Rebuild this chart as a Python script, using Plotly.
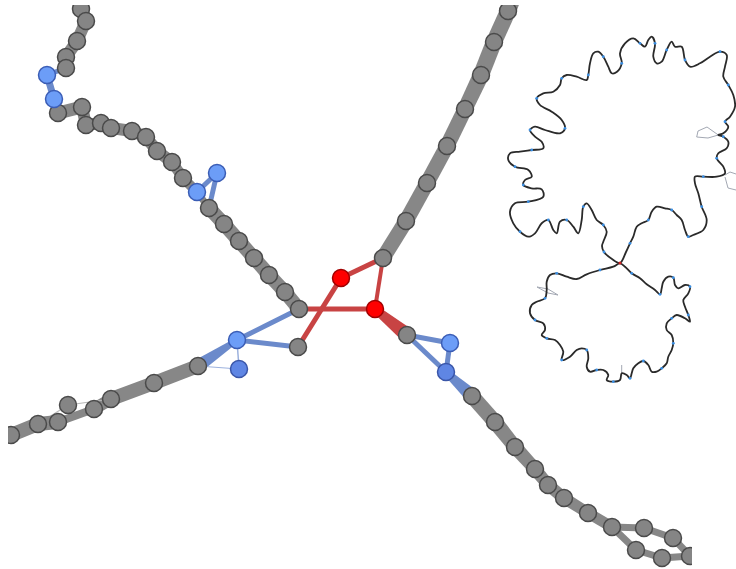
import math
import plotly.graph_objects as go

# ---------------- main graph: node layout (canvas pixel units) ----------------
NODE_X = [81, 86, 77, 66, 66, 47, 54, 58, 82, 86, 101, 111, 132, 146, 157, 172, 183, 197, 217, 209,
          224, 239, 254, 269, 285, 299, 341, 375, 298, 237, 239, 198, 154, 111, 94, 68, 58, 38, 11,
          508, 494, 481, 465, 447, 427, 406, 383, 407, 450, 446, 472, 495, 515, 535, 548, 564, 588,
          612, 644, 673, 636, 662, 690, 72, -8, 520]
NODE_Y = [9, 21, 41, 57, 68, 75, 99, 113, 107, 125, 123, 128, 131, 137, 151, 162, 178, 192, 173, 208,
          224, 241, 258, 275, 292, 309, 278, 309, 347, 340, 369, 366, 383, 399, 409, 405, 422, 424, 435,
          11, 42, 75, 109, 146, 183, 221, 258, 335, 343, 372, 396, 422, 447, 469, 485, 498, 513,
          527, 528, 538, 550, 558, 556, -10, 442, -20]
NODE_GROUP = ["g", "g", "g", "g", "g", "b", "b", "g", "g", "g", "g", "g", "g", "g", "g", "g", "g", "b", "b", "g",
              "g", "g", "g", "g", "g", "g", "r", "r", "g", "b", "b2", "g", "g", "g", "g", "g", "g", "g", "g",
              "g", "g", "g", "g", "g", "g", "g", "g", "g", "b", "b2", "g", "g", "g", "g", "g", "g", "g",
              "g", "g", "g", "g", "g", "g", "g", "g", "g"]

# ---------------- main graph: edges ----------------
EDGE_SRC = [63, 0, 1, 2, 3, 4, 5, 6, 7, 8, 9, 10, 11, 12, 13, 14, 15, 16, 17, 18, 17,
            19, 20, 21, 22, 23, 24,
            25, 25, 26, 26, 27, 27, 29, 29, 29, 31,
            65, 39, 40, 41, 42, 43, 44, 45,
            47, 47, 48, 49, 50, 51, 52, 53, 54, 55, 56, 57, 58, 59, 57, 60, 61,
            31, 32, 33, 34, 33, 35, 36, 37, 38]
EDGE_DST = [0, 1, 2, 3, 4, 5, 6, 7, 8, 9, 10, 11, 12, 13, 14, 15, 16, 17, 18, 19, 19,
            20, 21, 22, 23, 24, 25,
            29, 27, 28, 46, 46, 47, 28, 31, 30, 30,
            39, 40, 41, 42, 43, 44, 45, 46,
            48, 49, 49, 50, 51, 52, 53, 54, 55, 56, 57, 58, 59, 62, 60, 61, 62,
            32, 33, 34, 36, 35, 37, 37, 38, 64]
EDGE_W_SRC = [12, 12, 12, 12, 12, 5, 7, 7, 13, 12, 12, 12, 12, 12, 12, 12, 11, 10, 5, 5, 7,
              14, 14, 14, 14, 14, 14,
              5, 5, 5, 5, 4, 8, 5, 5, 1.5, 1,
              16, 16, 16, 16, 15, 15, 15, 15,
              5, 5, 5, 7, 15, 15, 14, 13, 12, 12, 11, 7, 7, 7, 7, 7, 7,
              14, 14, 12, 8, 1, 1, 14, 14, 14]
EDGE_W_DST = [12, 12, 12, 12, 12, 5, 7, 7, 13, 12, 12, 12, 12, 12, 12, 12, 11, 10, 5, 5, 7,
              14, 14, 14, 14, 14, 14,
              5, 5, 5, 5, 4, 15, 5, 13, 1.5, 1,
              16, 16, 16, 15, 15, 15, 15, 15,
              5, 5, 5, 14, 15, 14, 13, 12, 12, 11, 11, 7, 7, 7, 7, 7, 7,
              14, 14, 12, 8, 1, 1, 14, 14, 14]
EDGE_GROUP = ["g", "g", "g", "g", "g", "b", "b", "b", "g", "g", "g", "g", "g", "g", "g", "g", "g", "g", "b", "b", "g",
              "g", "g", "g", "g", "g", "g",
              "b", "r", "r", "r", "r", "r", "b", "b", "bt", "bt",
              "g", "g", "g", "g", "g", "g", "g", "g",
              "b", "b", "b", "b", "g", "g", "g", "g", "g", "g", "g", "g", "g", "g", "g", "g", "g",
              "g", "g", "g", "g", "gt", "gt", "g", "g", "g"]

# ---------------- overview inset: traced outline of the whole graph ----------------
UPPER_X = [620, 612, 604, 602, 603.3, 606.7, 603.3, 596.7, 591.7, 586.7, 583.3, 581.7, 578.3, 573.3,
           566.7, 560, 556.7, 553.3, 548.3, 541.7, 535, 528.3, 520, 513.3, 510, 515, 528.3, 543.3,
           541.7, 531.7, 523.3, 525, 531.7, 528.3, 515, 508.3, 510, 520, 531.7, 543.3, 541.7, 535,
           530, 535, 545, 560, 565, 561.7, 551.7, 540, 536.7, 543.3, 553.3, 560, 561.7, 566.7,
           576.7, 586.7, 588.3, 590, 593.3, 598.3, 603.3, 608.3, 611.7, 616.7, 621.7, 620, 625,
           633.3, 640, 645, 648.3, 651.7, 655, 653.3, 656.7, 661.7, 666.7, 671.7, 675, 681.7, 685,
           690, 700, 710, 720, 726.7, 725, 723.3, 728.3, 733.3, 735, 730, 725, 728.3, 723.3, 718.3,
           723.3, 728.3, 726.7, 718.3, 716.7, 723.3, 725, 716.7, 703.3, 695, 695, 698.3, 701.7,
           706.7, 703.3, 693.3, 688.3, 685, 681.7, 676.7, 671.7, 665, 656.7, 651.7, 648.3, 641.7,
           636.7, 633.3, 630, 626, 620]
UPPER_Y = [263, 259, 252, 246, 241.7, 231.7, 225, 220, 210, 203.3, 206.7, 220, 233.3, 226.7,
           220, 221.7, 233.3, 230, 220, 223.3, 233.3, 236.7, 231.7, 223.3, 211.7, 203.3, 201.7, 196.7,
           189.3, 188.3, 185, 180, 176.7, 170, 166.7, 160, 153.3, 151.7, 150, 148.3, 141.7, 136.7,
           130, 126.7, 130, 133.3, 128.3, 120, 111.7, 105, 98.3, 93.3, 91.7, 85, 78.3, 75,
           76.7, 80, 75, 63.3, 53.3, 51.7, 56.7, 66.7, 73.3, 72, 63.3, 53.3, 43.3,
           38.3, 43.3, 46.7, 40, 36.7, 43.3, 56.7, 63.3, 61.7, 50, 41.7, 46.7, 46.7, 60,
           66.7, 63.3, 56.7, 51.7, 55, 66.7, 76.7, 85, 95, 106.7, 116.7, 121.7, 126.7, 133.3, 135,
           136.7, 141.7, 148.3, 153.3, 158.3, 166.7, 173.3, 176.7, 176.7, 176.7, 183.3, 193.3, 206.7,
           220, 230, 235, 236.7, 230, 220, 215, 210, 208.3, 206.7, 211.7, 220, 223.3,
           226.7, 236.7, 243.3, 252, 263]
LOWER_X = [620, 613.3, 600, 586.7, 576.7, 566.7, 556.7, 550, 546.7, 546.7, 545, 536.7, 531.7, 530,
           535, 543.3, 545, 541.7, 546.7, 555, 560, 563.3, 561.7, 570, 576.7, 581.7, 586.7, 588.3,
           586.7, 590, 596.7, 603.3, 608.3, 606.7, 613.3, 620, 621.7, 626.7, 630, 631.7, 633.3,
           638.3, 643.3, 648.3, 651.7, 656.7, 661.7, 666.7, 668.3, 671.7, 673.3, 671.7, 666.7,
           666.7, 671.7, 676.7, 685, 690, 688.3, 685, 683.3, 688.3, 690, 685, 678.3, 675, 673.3,
           668.3, 663.3, 661.7, 660, 655, 646.7, 640, 631.7, 625, 620]
LOWER_Y = [263.3, 266.7, 270, 274.3, 279, 276.7, 273.3, 275, 281.7, 290, 298.3, 301.7, 305, 313.3,
           320, 323.3, 330, 335, 338.3, 340, 345, 351.7, 360, 356.7, 350, 348.3, 350, 358.3,
           366.7, 371.7, 370, 370, 375, 380, 381.7, 380, 373.3, 375, 378.3, 373.3, 368.3,
           363.3, 361, 365, 371.7, 371.7, 368.3, 363.3, 356.7, 350, 343.3, 335, 330,
           323.3, 318.3, 315, 318.3, 321.7, 315, 306.7, 300, 293.3, 286.7, 285, 288.3, 285, 277.7,
           276.7, 281.7, 288.3, 294.3, 290, 284.3, 278.3, 273.3, 266.7, 263.3]
# faint side branches of the overview
SIDE_X = [[537, 548, 558, 548, 537],
          [718.3, 707, 698, 696.7, 708, 718.3],
          [725, 730, 736],
          [725, 728, 736],
          [621.7, 621.7]]
SIDE_Y = [[287, 289, 295, 293, 287],
          [135, 127, 131, 137, 138, 135],
          [175, 172, 174],
          [177, 188, 190],
          [365, 376]]

EDGE_COLORS = {"g": "#878787", "b": "#6b8acb", "r": "#c84343", "bt": "#9db2de", "gt": "#b8b8b8"}
NODE_FILL = {"g": "#858585", "b": "#6c9df7", "b2": "#5f86e4", "r": "#ff0000"}
NODE_EDGE = {"g": "#4a4a4a", "b": "#3b5db5", "b2": "#3a56a8", "r": "#a00000"}

fig = go.Figure()

# edges as tapered bands (axis units are 1:1 with screen pixels)
for s, t, ws, wt, grp in zip(EDGE_SRC, EDGE_DST, EDGE_W_SRC, EDGE_W_DST, EDGE_GROUP):
    x1, y1, x2, y2 = NODE_X[s], NODE_Y[s], NODE_X[t], NODE_Y[t]
    L = math.hypot(x2 - x1, y2 - y1) or 1.0
    nx, ny = -(y2 - y1) / L, (x2 - x1) / L
    px = [x1 + nx * ws / 2, x2 + nx * wt / 2, x2 - nx * wt / 2, x1 - nx * ws / 2, x1 + nx * ws / 2]
    py = [y1 + ny * ws / 2, y2 + ny * wt / 2, y2 - ny * wt / 2, y1 - ny * ws / 2, y1 + ny * ws / 2]
    fig.add_trace(go.Scatter(x=px, y=py, mode="lines", fill="toself",
                             fillcolor=EDGE_COLORS[grp], line=dict(width=0, color=EDGE_COLORS[grp]),
                             hoverinfo="skip", showlegend=False, xaxis="x", yaxis="y"))

# nodes, one trace per colour group
for grp in ["g", "b", "b2", "r"]:
    idx = [i for i, g in enumerate(NODE_GROUP) if g == grp]
    fig.add_trace(go.Scatter(
        x=[NODE_X[i] for i in idx], y=[NODE_Y[i] for i in idx], mode="markers",
        marker=dict(size=17, color=NODE_FILL[grp], line=dict(width=1.5, color=NODE_EDGE[grp])),
        hoverinfo="skip", showlegend=False, xaxis="x", yaxis="y"))

# overview inset
for sx, sy in zip(SIDE_X, SIDE_Y):
    fig.add_trace(go.Scatter(x=sx, y=sy, mode="lines", line=dict(color="#a3a8b3", width=1.0),
                             hoverinfo="skip", showlegend=False, xaxis="x2", yaxis="y2"))
for lx, ly in [(UPPER_X, UPPER_Y), (LOWER_X, LOWER_Y)]:
    fig.add_trace(go.Scatter(x=lx, y=ly, mode="lines",
                             line=dict(color="#2a2a2a", width=1.8, shape="spline", smoothing=1.0),
                             hoverinfo="skip", showlegend=False, xaxis="x2", yaxis="y2"))
    fig.add_trace(go.Scatter(x=lx[2::4], y=ly[2::4], mode="markers",
                             marker=dict(size=2.8, color="#3b8fe3"),
                             hoverinfo="skip", showlegend=False, xaxis="x2", yaxis="y2"))
fig.add_trace(go.Scatter(x=[UPPER_X[0]], y=[UPPER_Y[0]], mode="markers",
                         marker=dict(size=3, color="#d02020"),
                         hoverinfo="skip", showlegend=False, xaxis="x2", yaxis="y2"))

W, H = 736, 569
hidden = dict(showgrid=False, zeroline=False, showticklabels=False, showline=False, ticks="",
              fixedrange=True)
fig.update_layout(
    width=W, height=H, margin=dict(l=0, r=0, t=0, b=0),
    paper_bgcolor="white", plot_bgcolor="rgba(0,0,0,0)",
    xaxis=dict(domain=[8 / W, 692 / W], range=[8, 692], anchor="y", **hidden),
    yaxis=dict(domain=[0, 1 - 5 / H], range=[569, 5], anchor="x", **hidden),
    xaxis2=dict(domain=[0, 1], range=[0, 736], anchor="y2", **hidden),
    yaxis2=dict(domain=[0, 1], range=[569, 0], anchor="x2", **hidden),
    showlegend=False,
)

fig.write_html("out.html")
